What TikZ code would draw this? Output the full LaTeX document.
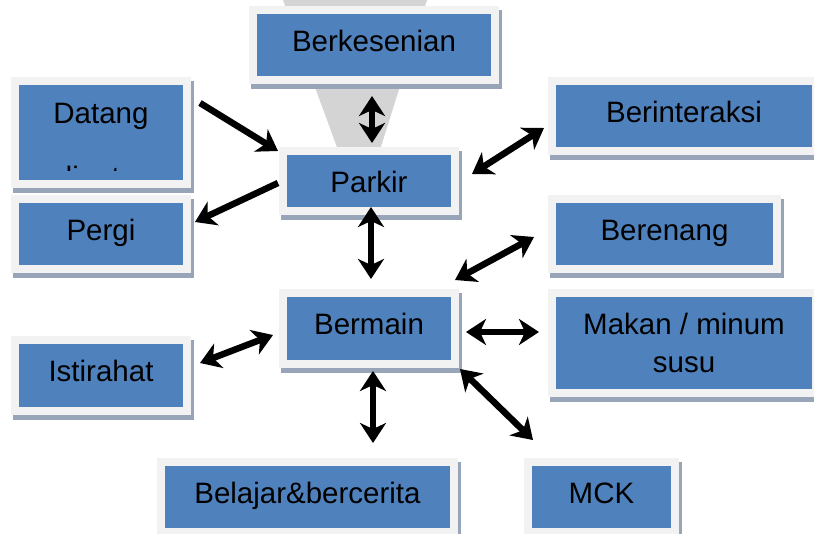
\documentclass[tikz,border=0pt]{standalone}
\usepackage{fontspec}
\setmainfont{Liberation Sans}
\usetikzlibrary{arrows.meta,calc,backgrounds}
\definecolor{boxblue}{HTML}{4F81BD}
\definecolor{framegray}{HTML}{F2F2F2}
\definecolor{shadowgray}{HTML}{98A5B8}
\definecolor{funnelgray}{HTML}{D4D4D4}
\begin{document}
\begin{tikzpicture}[x=1pt,y=-1pt,
  box/.style={fill=boxblue, inner sep=0pt, text height=30pt,
    font=\fontsize{29.5}{35}\selectfont},
  lbl/.style={inner sep=0pt, anchor=base, font=\fontsize{29.5}{35}\selectfont},
  dbl/.style={line width=6.5pt,
    {Stealth[length=20pt,width=26pt,inset=6pt]}-{Stealth[length=20pt,width=26pt,inset=6pt]}},
  sgl/.style={line width=6.5pt, -{Stealth[length=20pt,width=26pt,inset=6pt]}}]
\useasboundingbox (0,0) rectangle (814,533);

% blue boxes (text sits near the top of each box)
\node[box, minimum width=234pt, minimum height=62pt, text depth=16.6pt] (berk) at (374,45) {Berkesenian};
\node[box, minimum width=164pt, minimum height=95pt] (datang) at (101,132.5) {};
\node[box, minimum width=164pt, minimum height=62pt, text depth=16.6pt] (pergi) at (101,234) {Pergi};
\node[box, minimum width=164pt, minimum height=63pt, text depth=17.6pt] (istir) at (101,375.5) {Istirahat};
\node[box, minimum width=164pt, minimum height=52pt, text depth=6.6pt] (parkir) at (369,181) {Parkir};
\node[box, minimum width=164pt, minimum height=63pt, text depth=17.6pt] (bermain) at (369,328.5) {Bermain};
\node[box, minimum width=256pt, minimum height=62pt, text depth=16.6pt] (berint) at (684,116) {Berinteraksi};
\node[box, minimum width=217pt, minimum height=62pt, text depth=16.6pt] (beren) at (664.5,234) {Berenang};
\node[box, minimum width=256pt, minimum height=92pt] (makan) at (684,343) {};
\node[box, minimum width=285pt, minimum height=62pt, text depth=16.6pt] (belajar) at (307.5,497) {Belajar\&bercerita};
\node[box, minimum width=139pt, minimum height=62pt, text depth=16.6pt] (mck) at (601.5,497) {MCK};

% two-line labels
\node[lbl] (datangA) at (101,123) {Datang};
\begin{scope}
  \clip (19,85) rectangle (183,170);
  \node[lbl] (datangB) at (101,187) {diantar};
\end{scope}
\node[lbl] (makanA) at (684,334) {Makan / minum};
\node[lbl] (makanB) at (684,372) {susu};

% frames, drop shadows and the grey funnel behind the top box
\begin{pgfonlayer}{background}
  \fill[funnelgray] (283,0) -- (427,0) -- (380,150) -- (338,150) -- cycle;
  \foreach \n in {berk,datang,pergi,istir,parkir,bermain,berint,beren,makan,belajar,mck}{
    \fill[shadowgray] ($(\n.north west)+(-5.5,-3.5)$) rectangle ($(\n.south east)+(10.5,12.5)$);
    \fill[framegray] ($(\n.north west)+(-7.5,-7.5)$) rectangle ($(\n.south east)+(7.5,7.5)$);
  }
\end{pgfonlayer}

% arrow end points
\coordinate (bk-s) at (372,96);   \coordinate (pk-n) at (372,143);
\coordinate (dt-e) at (200,103);  \coordinate (pk-nw) at (278,151);
\coordinate (pk-w) at (278,183);  \coordinate (pg-e) at (195,222);
\coordinate (pk-e) at (472,174);  \coordinate (bi-w) at (544,128);
\coordinate (pk-s) at (371,207);  \coordinate (bm-n) at (371,279);
\coordinate (bm-ne) at (455,280); \coordinate (br-w) at (534,237);
\coordinate (is-e) at (200,363);  \coordinate (bm-w) at (273,335);
\coordinate (bm-e) at (466,332);  \coordinate (mk-w) at (539,332);
\coordinate (bm-s) at (373,371);  \coordinate (bl-n) at (373,443);
\coordinate (bm-se) at (460,369); \coordinate (mc-n) at (533,440);

% connectors
\draw[dbl] (bk-s) -- (pk-n);
\draw[sgl] (dt-e) -- (pk-nw);
\draw[sgl] (pk-w) -- (pg-e);
\draw[dbl] (pk-e) -- (bi-w);
\draw[dbl] (pk-s) -- (bm-n);
\draw[dbl] (bm-ne) -- (br-w);
\draw[dbl] (is-e) -- (bm-w);
\draw[dbl] (bm-e) -- (mk-w);
\draw[dbl] (bm-s) -- (bl-n);
\draw[dbl] (bm-se) -- (mc-n);
\end{tikzpicture}
\end{document}
